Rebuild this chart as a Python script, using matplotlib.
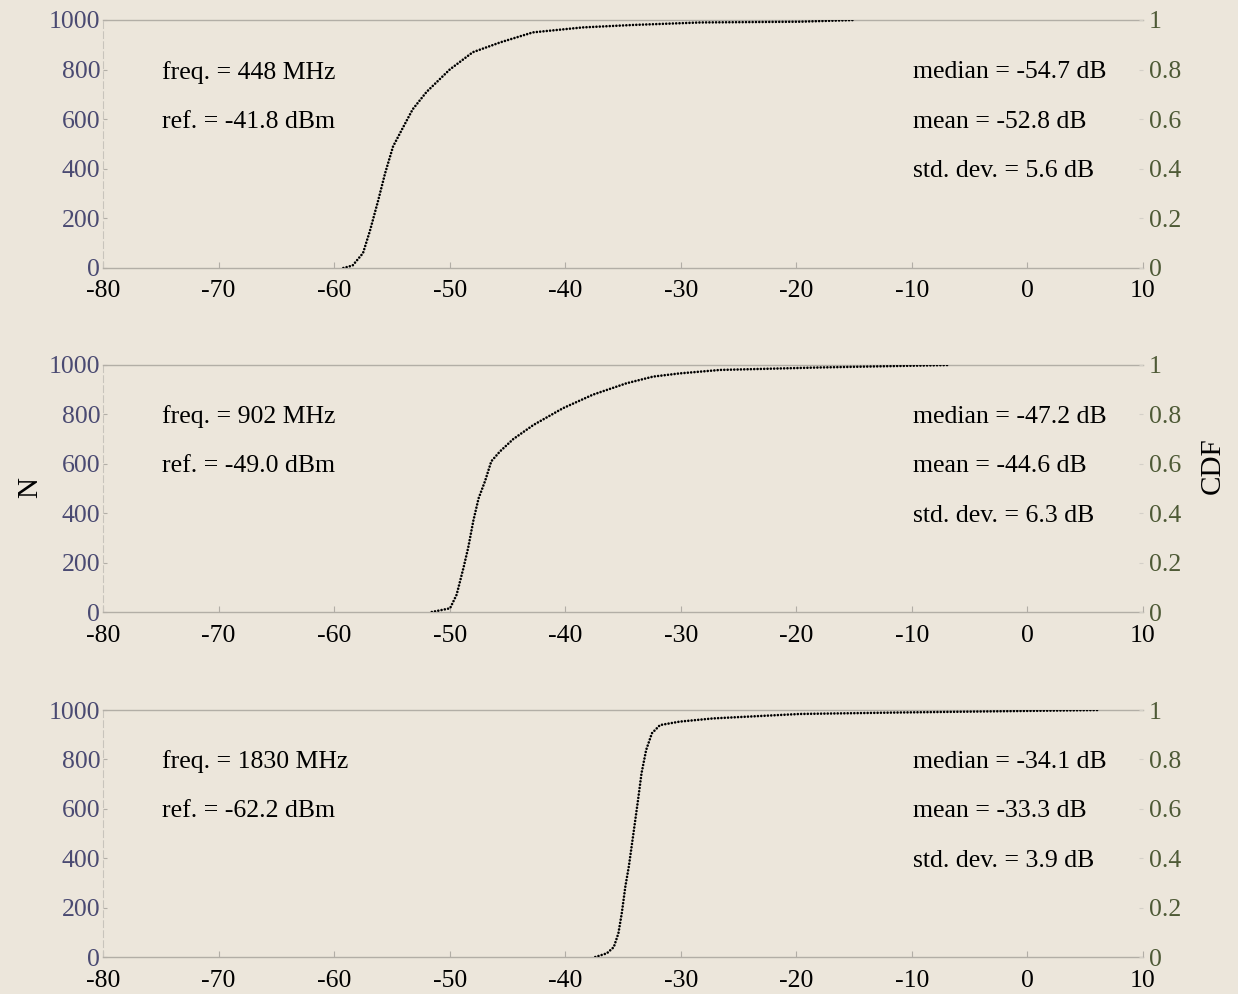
import matplotlib.pyplot as plt
import numpy as np

freqs = ["448", "902", "1830"]
refs = ["-41.8", "-49.0", "-62.2"]
medians = ["-54.7", "-47.2", "-34.1"]
means = ["-52.8", "-44.6", "-33.3"]
stds = ["5.6", "6.3", "3.9"]

level_448 = [-59.2, -58.4, -57.5, -56.9, -56.2, -55.6, -54.9, -54.0, -53.2, -52.0,
             -50.0, -48.0, -45.6, -42.8, -38.5, -34.1, -28.3, -19.7, -14.9]
cdf_448 = [0.0, 0.01, 0.06, 0.15, 0.27, 0.38, 0.49, 0.57, 0.64, 0.71,
           0.80, 0.87, 0.91, 0.95, 0.97, 0.98, 0.99, 0.993, 1.0]

level_902 = [-51.55, -49.97, -49.4, -48.8, -48.4, -47.95, -47.5, -46.94, -46.4, -45.65,
             -44.5, -42.76, -40.2, -37.6, -34.7, -32.4, -30.1, -26.6, -17.95, -6.7]
cdf_902 = [0.0, 0.015, 0.07, 0.18, 0.26, 0.37, 0.46, 0.53, 0.61, 0.65,
           0.70, 0.757, 0.825, 0.88, 0.926, 0.953, 0.966, 0.98, 0.99, 1.0]

level_1830 = [-37.4, -36.4, -35.8, -35.4, -35.1, -34.8, -34.5, -34.1, -33.7, -33.4,
              -33.0, -32.5, -31.8, -30.1, -27.2, -19.7, -11.0, 6.3]
cdf_1830 = [0.0, 0.015, 0.04, 0.096, 0.18, 0.285, 0.366, 0.50, 0.636, 0.744,
            0.838, 0.906, 0.939, 0.953, 0.966, 0.984, 0.99, 1.0]

levels = [level_448, level_902, level_1830]
cdfs = [cdf_448, cdf_902, cdf_1830]

x_ticks = [-80, -70, -60, -50, -40, -30, -20, -10, 0, 10]
n_ticks = [0, 200, 400, 600, 800, 1000]
cdf_ticks = [0, 0.2, 0.4, 0.6, 0.8, 1]
cdf_labels = ["0", "0.2", "0.4", "0.6", "0.8", "1"]

bg = "#ece6db"
left_col = "#4a4a72"
right_col = "#4e5a36"
spine_col = "#b2aea6"
font = "Liberation Serif"
fs = 18.5

plt.rcParams['font.family'] = [font, 'DejaVu Serif']

fig = plt.figure(figsize=(12.38, 9.94), dpi=100, facecolor=bg)

# axes boxes in figure fraction (left, bottom, width, height)
boxes = [(0.0832, 0.7304, 0.8401, 0.2495),
         (0.0832, 0.3843, 0.8401, 0.2485),
         (0.0832, 0.0372, 0.8401, 0.2485)]

for i, box in enumerate(boxes):
    ax = fig.add_axes(box)
    ax.set_facecolor(bg)
    ax.set_xlim(-80, 10)
    ax.set_ylim(0, 1000)
    ax.set_xticks(x_ticks)
    ax.set_xticklabels([str(t) for t in x_ticks], fontsize=fs, color="black")
    ax.set_yticks(n_ticks)
    ax.set_yticklabels([str(t) for t in n_ticks], fontsize=fs, color=left_col)
    ax.tick_params(axis='x', direction='in', length=4, pad=9, color=spine_col)
    ax.tick_params(axis='y', direction='in', length=3, pad=2, color=spine_col)
    for side in ['top', 'bottom']:
        ax.spines[side].set_color(spine_col)
        ax.spines[side].set_linewidth(1.0)
    ax.spines['left'].set_color("#c8c4bc")
    ax.spines['left'].set_linestyle((0, (6, 3)))
    ax.spines['right'].set_visible(False)

    ax.text(-74.9, 790, f"freq. = {freqs[i]} MHz", fontsize=fs, va='center', ha='left')
    ax.text(-74.9, 590, f"ref. = {refs[i]} dBm", fontsize=fs, va='center', ha='left')
    ax.text(-9.9, 790, f"median = {medians[i]} dB", fontsize=fs, va='center', ha='left')
    ax.text(-9.9, 590, f"mean = {means[i]} dB", fontsize=fs, va='center', ha='left')
    ax.text(-9.9, 390, f"std. dev. = {stds[i]} dB", fontsize=fs, va='center', ha='left')

    ax2 = ax.twinx()
    ax2.set_ylim(0, 1)
    ax2.set_yticks(cdf_ticks)
    ax2.set_yticklabels(cdf_labels, fontsize=fs, color=right_col)
    ax2.tick_params(axis='y', direction='in', length=3, pad=4, color="#d4d0c8")
    for side in ['top', 'bottom', 'left', 'right']:
        ax2.spines[side].set_visible(False)
    ax2.plot(levels[i], cdfs[i], color="#000000", linewidth=1.9,
             linestyle=(0, (0.01, 1.25)), dash_capstyle='round')

fig.text(0.024, 0.51, "N", rotation=90, fontsize=21, va='center', ha='center')
fig.text(0.98, 0.532, "CDF", rotation=90, fontsize=21, va='center', ha='center')

fig.savefig("out.png", dpi=100, facecolor=bg)
